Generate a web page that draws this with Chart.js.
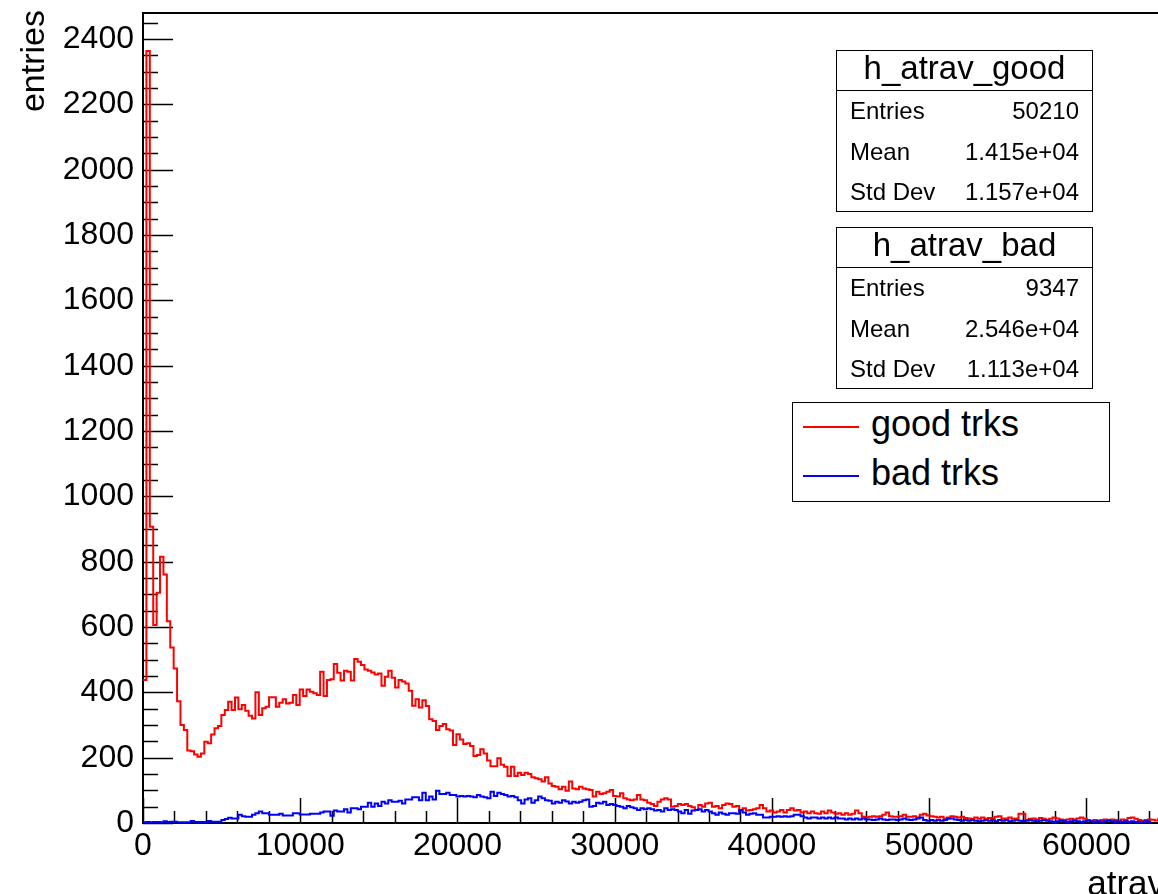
<!DOCTYPE html>
<html>
<head>
<meta charset="utf-8">
<script src="https://cdn.jsdelivr.net/npm/chart.js@4/dist/chart.umd.min.js"></script>
<style>
html,body{margin:0;padding:0;background:#fff;overflow:hidden;width:1158px;height:894px}
#wrap{position:relative;width:1220px;height:894px}
#c{position:absolute;left:0;top:0}
.f{font-family:"Liberation Sans",Arial,Helvetica,sans-serif;color:#000}
.box{position:absolute;border:1px solid #000;background:#fff;box-sizing:border-box}
.ttl{position:absolute;left:0;right:0;height:40px;line-height:40px;text-align:center;font-size:33px;white-space:nowrap}
.div{position:absolute;left:0;right:0;height:0;border-top:1px solid #000}
.row{position:absolute;left:13px;right:13px;height:40px;line-height:40px;font-size:24px;white-space:nowrap}
.row span{float:right}
.lg{position:absolute;left:78px;height:40px;line-height:40px;font-size:36px;white-space:nowrap}
.ln{position:absolute;left:10px;width:56px;height:2px}
</style>
</head>
<body>
<div id="wrap">
<canvas id="c" width="1220" height="894"></canvas>

<div class="box f" style="left:836px;top:50px;width:257px;height:162px">
  <div class="ttl" style="top:-3px">h_atrav_good</div>
  <div class="div" style="top:39px"></div>
  <div class="row" style="top:40px">Entries<span>50210</span></div>
  <div class="row" style="top:80.5px">Mean<span>1.415e+04</span></div>
  <div class="row" style="top:121px">Std Dev<span>1.157e+04</span></div>
</div>

<div class="box f" style="left:836px;top:227px;width:257px;height:162px">
  <div class="ttl" style="top:-3px">h_atrav_bad</div>
  <div class="div" style="top:39px"></div>
  <div class="row" style="top:40px">Entries<span>9347</span></div>
  <div class="row" style="top:80.5px">Mean<span>2.546e+04</span></div>
  <div class="row" style="top:121px">Std Dev<span>1.113e+04</span></div>
</div>

<div class="box f" style="left:792px;top:402px;width:318px;height:100px">
  <div class="ln" style="top:23px;background:#ff0000"></div>
  <div class="lg" style="top:1px">good trks</div>
  <div class="ln" style="top:72px;background:#0000ff"></div>
  <div class="lg" style="top:49.5px">bad trks</div>
</div>
</div>

<script>
// ---- data ----
const xMin = 0;
const xMax = 65000;
const binCount = 300;
const yMax = 2480;
const xTickLabels = [0, 10000, 20000, 30000, 40000, 50000, 60000];
const yTickLabels = [0, 200, 400, 600, 800, 1000, 1200, 1400, 1600, 1800, 2000, 2200, 2400];
const xMinorStep = 2000;
const yMinorStep = 50;
const xTitle = "atrav";
const yTitle = "entries";

const goodCounts = [
 438,2364,907,606,705,815,761,618,537,473,373,300,285,222,220,210,203,213,
 249,244,271,290,297,331,346,371,346,384,348,361,344,328,320,400,331,351,356,385,385,356,
 368,379,366,368,392,361,409,389,409,402,397,392,463,389,438,440,487,460,436,466,
 463,436,502,494,484,470,466,461,455,458,420,448,466,445,415,438,433,427,405,359,
 379,354,376,358,318,312,285,297,303,287,283,
 239,272,256,242,244,236,205,208,226,213,191,174,174,198,178,172,144,172,144,154,
 147,154,150,140,137,134,127,140,121,113,111,103,111,99,127,106,103,111,106,103,
 101,81,96,89,91,96,101,83,81,91,76,72,70,72,86,72,70,62,58,52,
 65,72,76,72,50,52,58,55,58,52,48,40,
 55,50,60,62,50,52,45,55,60,58,50,52,40,45,38,40,42,45,55,45,
 35,38,32,35,40,32,40,45,38,40,32,35,30,35,30,28,35,30,38,32,
 28,30,25,30,25,28,38,30,19,17,19,21,19,21,25,32,21,19,19,21,
 25,19,19,21,
 17,25,28,23,21,19,17,19,14,17,21,19,17,19,15,14,13,17,13,17,
 13,15,14,19,21,14,14,17,13,14,28,28,9,13,14,11,15,13,9,13,
 17,14,11,9,11,13,11,14,17,13,9,7,9,7,9,11,9,11,9,7,
 11,9,15,17,13,9,7,9,11,
 10,8,12,9
];

const badCounts = [
 2,3,2,3,3,2,5,3,4,4,2,2,2,2,6,3,3,3,3,6,
 4,4,4,9,12,16,14,14,25,21,19,19,25,30,35,30,30,25,25,25,
 28,23,23,23,30,30,26,26,26,28,28,28,32,35,35,22,38,35,35,42,
 32,45,45,42,50,50,62,50,60,52,65,60,70,65,65,68,60,72,72,79,
 79,70,93,70,81,72,99,89,89,93,
 86,86,81,83,81,83,81,79,86,81,79,76,96,83,93,89,86,81,83,79,
 70,60,72,76,62,70,81,76,70,68,60,65,62,70,66,60,65,62,65,70,
 72,50,52,62,60,65,55,58,55,52,50,45,52,48,45,40,45,42,45,42,
 38,40,35,45,40,42,40,35,30,40,28,38,40,
 42,35,40,35,30,25,32,28,25,30,30,28,40,32,25,28,30,25,25,17,
 17,19,19,21,19,21,19,21,25,25,21,17,14,17,17,14,17,14,17,14,
 17,14,14,11,14,11,14,11,14,11,11,9,11,14,11,9,11,11,9,11,
 14,11,9,11,
 14,17,9,7,9,7,9,7,9,13,14,11,9,7,9,7,9,7,5,7,
 9,7,9,5,9,7,9,5,7,9,7,5,7,9,7,5,7,9,7,5,
 3,5,7,5,3,5,7,5,3,5,7,5,3,5,3,5,7,5,3,5,
 3,5,3,5,3,
 4,3,5,3
];

// ---- build step points ----
const binW = (xMax - xMin) / binCount;
function toSteps(counts) {
  const pts = counts.map((v, i) => ({x: xMin + i * binW, y: v}));
  pts.push({x: xMin + counts.length * binW, y: counts[counts.length - 1]});
  return pts;
}

const FONT = '"Liberation Sans", Arial, Helvetica, sans-serif';

const rootAxes = {
  id: 'rootAxes',
  beforeDatasetsDraw(chart) {
    const {ctx, chartArea: a, scales: {x, y}} = chart;
    ctx.save();
    ctx.strokeStyle = '#000';
    ctx.lineWidth = 1.5;
    ctx.beginPath();
    for (let v = xMin; v <= xMax; v += xMinorStep) {
      const px = Math.round(x.getPixelForValue(v)) + 0.5;
      const len = (v % 10000 === 0) ? 25 : 12;
      ctx.moveTo(px, a.bottom); ctx.lineTo(px, a.bottom - len);
    }
    for (let v = 0; v <= yMax; v += yMinorStep) {
      const py = Math.round(y.getPixelForValue(v)) + 0.5;
      const len = (v % 200 === 0) ? 30 : 15;
      ctx.moveTo(a.left, py); ctx.lineTo(a.left + len, py);
    }
    ctx.stroke();
    ctx.lineWidth = 2;
    ctx.strokeRect(a.left, a.top, a.right - a.left, a.bottom - a.top);
    ctx.restore();
  },
  afterDraw(chart) {
    const {ctx, chartArea: a} = chart;
    ctx.save();
    ctx.fillStyle = '#000';
    ctx.font = '34px ' + FONT;
    ctx.textBaseline = 'alphabetic';
    ctx.translate(44, 10);
    ctx.rotate(-Math.PI / 2);
    ctx.textAlign = 'right';
    ctx.fillText(yTitle, 0, 0);
    ctx.restore();
    ctx.save();
    ctx.fillStyle = '#000';
    ctx.font = '35px ' + FONT;
    ctx.textAlign = 'right';
    ctx.textBaseline = 'alphabetic';
    ctx.fillText(xTitle, a.right, 895);
    ctx.restore();
  }
};

new Chart(document.getElementById('c'), {
  type: 'line',
  data: {
    datasets: [
      {label: 'good trks', data: toSteps(goodCounts), borderColor: '#ff0000', order: 2},
      {label: 'bad trks', data: toSteps(badCounts), borderColor: '#0000ff', order: 1}
    ]
  },
  options: {
    responsive: false,
    animation: false,
    events: [],
    layout: {padding: {top: 13, right: 55, bottom: 0, left: 0}},
    elements: {
      line: {borderWidth: 2, stepped: true, tension: 0, fill: false},
      point: {radius: 0}
    },
    datasets: {line: {stepped: true, pointRadius: 0}},
    plugins: {legend: {display: false}, tooltip: {enabled: false}},
    scales: {
      x: {
        type: 'linear', min: xMin, max: xMax,
        grid: {display: false, drawTicks: false},
        border: {display: false},
        ticks: {autoSkip: false, maxRotation: 0, minRotation: 0, padding: 4, color: '#000',
                font: {family: FONT, size: 32}, callback: v => String(v)},
        afterBuildTicks: s => { s.ticks = xTickLabels.map(v => ({value: v})); },
        afterFit: s => { s.height = 71; s.paddingLeft = 0; s.paddingRight = 0; }
      },
      y: {
        type: 'linear', min: 0, max: yMax,
        grid: {display: false, drawTicks: false},
        border: {display: false},
        ticks: {autoSkip: false, padding: 9, color: '#000',
                font: {family: FONT, size: 32}, callback: v => String(v)},
        afterBuildTicks: s => { s.ticks = yTickLabels.map(v => ({value: v})); },
        afterFit: s => { s.width = 143; s.paddingTop = 0; s.paddingBottom = 0; }
      }
    }
  },
  plugins: [rootAxes]
});
</script>
</body>
</html>
